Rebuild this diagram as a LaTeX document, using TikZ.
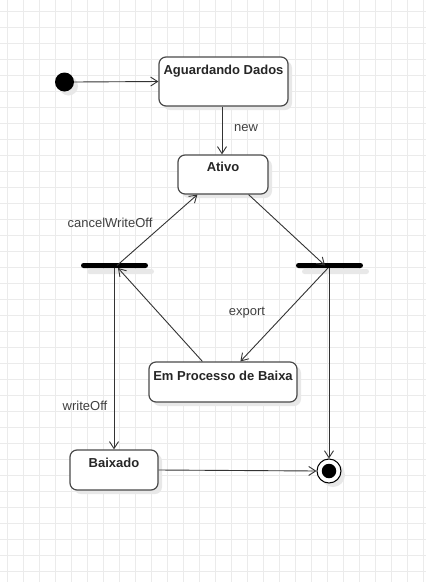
\documentclass[tikz,border=0pt]{standalone}
\usepackage{fontspec}
\setmainfont{Liberation Sans}
\usetikzlibrary{arrows.meta,shadows,calc}
\definecolor{gridc}{HTML}{EBEBEB}
\definecolor{linec}{HTML}{333333}
\definecolor{boxc}{HTML}{4A4A4A}
\definecolor{labc}{HTML}{404040}
\definecolor{shadc}{HTML}{E8E8E8}
\tikzset{
  shad/.style={drop shadow={shadow xshift=4pt,shadow yshift=-4pt,fill=shadc,opacity=1}},
  statebox/.style={draw=boxc,line width=1.2pt,fill=white,rounded corners=7pt,inner sep=0pt,shad},
  titletext/.style={font=\fontsize{13}{15}\selectfont\bfseries,text=black!85,inner sep=0pt},
  edgelabel/.style={font=\fontsize{13}{15}\selectfont,text=labc,inner sep=0pt},
  forkbar/.style={fill=black,rounded corners=2.5pt,minimum width=67pt,minimum height=5pt,inner sep=0pt,
    drop shadow={shadow xshift=6pt,shadow yshift=-6pt,fill=shadc,opacity=1}},
  conn/.style={draw=linec,line width=0.9pt,-{Straight Barb[length=7pt,width=9pt,line width=0.9pt]}},
}
\begin{document}
\begin{tikzpicture}[x=1pt,y=-1pt]
\useasboundingbox (0,0) rectangle (426,582);
\fill[white] (0,0) rectangle (426,582);
\foreach \gx in {7.3,23.3,...,426} \draw[gridc,line width=1pt] (\gx,0) -- (\gx,582);
\foreach \gy in {11,27,...,582} \draw[gridc,line width=1pt] (0,\gy) -- (426,\gy);

% states
\node[statebox,minimum width=129pt,minimum height=49pt] (ag) at (223.5,81.5) {};
\node[titletext] (agt) at (223.5,71) {Aguardando Dados};
\node[statebox,minimum width=90pt,minimum height=39pt] (at) at (223,174.5) {};
\node[titletext] (att) at (223,167) {Ativo};
\node[statebox,minimum width=148pt,minimum height=40pt] (em) at (223,382) {};
\node[titletext] (emt) at (223,376) {Em Processo de Baixa};
\node[statebox,minimum width=88pt,minimum height=40pt] (bx) at (114,470) {};
\node[titletext] (bxt) at (114,463) {Baixado};

% initial and final
\node[circle,fill=black,minimum size=19pt,inner sep=0pt,shad] (init) at (64.5,82) {};
\node[circle,draw=black,line width=1pt,fill=white,minimum size=24pt,inner sep=0pt,shad] (fin) at (329,471) {};
\node[circle,fill=black,minimum size=14.5pt,inner sep=0pt] (fini) at (329,471) {};

% fork bars
\node[forkbar] (barL) at (114.5,265.5) {};
\node[forkbar] (barR) at (329.5,265.5) {};

% connectors
\draw[conn] (init.east) -- (ag.west);
\draw[conn] (ag.south -| at.north) ++(-1,0) coordinate (agS) -- (at.north -| agS);
\draw[conn] ($(barL.center)+(2.5,0)$) -- ($(at.south west)+(20,0)$);
\draw[conn] ($(at.south east)+(-20,0)$) -- ($(barR.center)+(-4.5,0)$);
\draw[conn] ($(barR.center)+(-1.5,2.5)$) -- ($(em.north west)+(92,0)$);
\draw[conn] ($(em.north west)+(54,0)$) -- ($(barL.center)+(3.5,2.5)$);
\draw[conn] (barL.south -| bx.north) -- (bx.north);
\draw[conn] (barR.south -| fin.north) -- (fin.north);
\draw[conn] (bx.east) -- (fin.west);

% labels
\node[edgelabel] (lnew) at (246,128) {new};
\node[edgelabel] (lcw) at (110,223) {cancelWriteOff};
\node[edgelabel] (lex) at (247,313) {export};
\node[edgelabel] (lwo) at (85,406) {writeOff};
\end{tikzpicture}
\end{document}
